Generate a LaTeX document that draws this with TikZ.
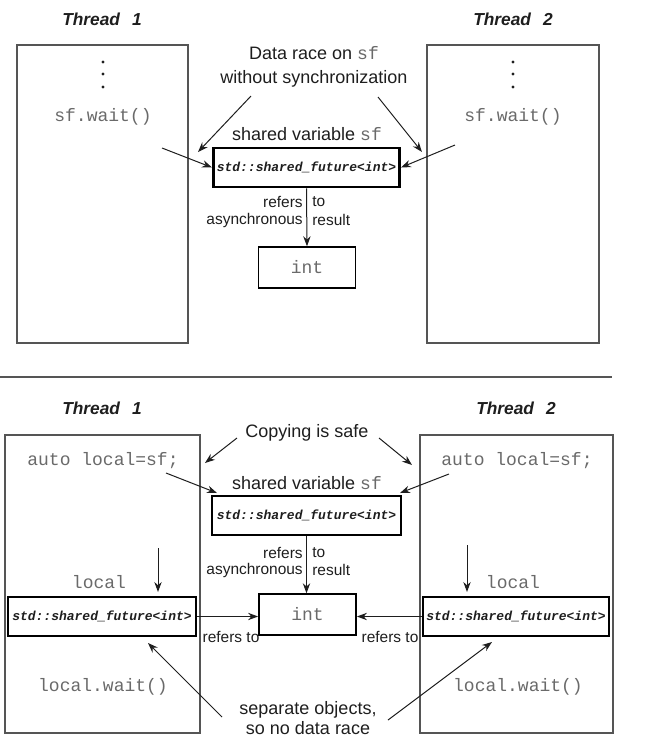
\documentclass[tikz,border=0pt]{standalone}
\usepackage{fontspec}
\setmainfont{Liberation Sans}
\setmonofont{Liberation Mono}
\usetikzlibrary{arrows.meta}
\definecolor{codegray}{HTML}{6A6A6A}
\definecolor{boxgray}{HTML}{555555}
\definecolor{txt}{HTML}{1E1E1E}
\tikzset{
  thread/.style={font=\fontsize{13}{15}\selectfont\bfseries\itshape, text=txt, inner sep=0pt},
  tbox/.style={draw=boxgray, line width=1.1pt, minimum height=223.5pt, inner sep=0pt},
  code/.style={font=\fontsize{13.5}{16}\selectfont\ttfamily, text=codegray, inner sep=0pt},
  lbl/.style={font=\fontsize{13.5}{18}\selectfont, text=txt, align=center, inner sep=0pt},
  lbltight/.style={font=\fontsize{13.5}{15.3}\selectfont, text=txt, align=center, inner sep=0pt},
  small/.style={font=\fontsize{11.6}{13}\selectfont, text=txt, inner sep=0pt},
  sfbox/.style={draw=black, line width=2.2pt, inner sep=0pt, minimum height=29.25pt,
    font=\fontsize{9.75}{11}\selectfont\ttfamily\bfseries\itshape, text=txt},
  intbox/.style={draw=black, line width=1.1pt, inner sep=0pt, minimum width=73pt, minimum height=30.75pt,
    font=\fontsize{13.5}{16}\selectfont\ttfamily, text=codegray},
  arr/.style={-{Stealth[length=7.5pt,width=5.5pt]}, line width=0.75pt, draw=txt},
  dotmark/.style={circle, fill=txt, inner sep=0pt, minimum size=2.4pt},
}
\newcommand{\myvarsf}{{\ttfamily\color{codegray}sf}}
\begin{document}
\begin{tikzpicture}[x=0.75pt, y=-0.75pt]
\useasboundingbox (0,0) rectangle (646,751);

% ---------------- top half ----------------
\node[thread] (t1a) at (102,19) {Thread\hspace{9pt}1};
\node[thread] (t2a) at (513,19) {Thread\hspace{9pt}2};
\node[tbox, minimum width=128.25pt] (b1a) at (102.5,194) {};
\node[tbox, minimum width=129pt] (b2a) at (513,194) {};
\node[dotmark] (d1a) at (103,62) {};
\node[dotmark] (d1b) at (103,74) {};
\node[dotmark] (d1c) at (103,87) {};
\node[dotmark] (d2a) at (513,62) {};
\node[dotmark] (d2b) at (513,74) {};
\node[dotmark] (d2c) at (513,87) {};
\node[code] (w1) at (103,117) {sf.wait()};
\node[code] (w2) at (513,117) {sf.wait()};
\node[lbl] (race) at (314,67) {Data race on \myvarsf\\without synchronization};
\node[lbl] (shA) at (307,134) {shared variable \myvarsf};
\node[sfbox, minimum width=139.5pt] (sfA) at (306.5,167.5) {std::shared\_future<int>};
\node[intbox] (intA) at (307,267.5) {int};
\node[small, anchor=east] (rA1) at (303,202) {refers};
\node[small, anchor=west] (rA2) at (312,202) {to};
\node[small, anchor=east] (rA3) at (303,220) {asynchronous};
\node[small, anchor=west] (rA4) at (312,220) {result};

\coordinate (ra1s) at (251,96);
\coordinate (ra1e) at (198,152);
\coordinate (ra2s) at (378,97);
\coordinate (ra2e) at (422,152);
\coordinate (wa1) at (162,148);
\coordinate (wa2) at (455,145);
\draw[arr] (ra1s) -- (ra1e);
\draw[arr] (ra2s) -- (ra2e);
\draw[arr] (wa1) -- (sfA.west);
\draw[arr] (wa2) -- (sfA.east);
\draw[arr] (sfA.south) -- (intA.north);

% separator
\coordinate (sepL) at (0,377);
\coordinate (sepR) at (612,377);
\draw[boxgray, line width=1.1pt] (sepL) -- (sepR);

% ---------------- bottom half ----------------
\node[thread] (t1b) at (102,408) {Thread\hspace{9pt}1};
\node[thread] (t2b) at (516,408) {Thread\hspace{9pt}2};
\node[tbox, minimum width=146.25pt] (b1b) at (102.5,584) {};
\node[tbox, minimum width=145pt] (b2b) at (516.5,584) {};
\node[code] (au1) at (103,461) {auto local=sf;};
\node[code] (au2) at (517,461) {auto local=sf;};
\node[lbl] (copy) at (307,433) {Copying is safe};
\node[lbl] (shB) at (307,483) {shared variable \myvarsf};
\node[sfbox, minimum width=141.75pt] (sfB) at (306.5,515.5) {std::shared\_future<int>};
\node[intbox] (intB) at (307.5,614.5) {int};
\node[small, anchor=east] (rB1) at (303,553) {refers};
\node[small, anchor=west] (rB2) at (312,553) {to};
\node[small, anchor=east] (rB3) at (303,570) {asynchronous};
\node[small, anchor=west] (rB4) at (312,570) {result};
\node[code] (loc1) at (99,582) {local};
\node[code] (loc2) at (513,582) {local};
\node[sfbox, minimum width=141pt] (lb1) at (102,616.5) {std::shared\_future<int>};
\node[sfbox, minimum width=139.5pt] (lb2) at (516,616.5) {std::shared\_future<int>};
\node[small] (rt1) at (231,637) {refers to};
\node[small] (rt2) at (390,637) {refers to};
\node[code] (lw1) at (103,687) {local.wait()};
\node[code] (lw2) at (518,687) {local.wait()};
\node[lbltight] (sep) at (308,718) {separate objects,\\so no data race};

\coordinate (ca1s) at (237,438);
\coordinate (ca1e) at (205,463);
\coordinate (ca2s) at (379,438);
\coordinate (ca2e) at (412,465);
\coordinate (aa1s) at (166,473);
\coordinate (aa1e) at (217,493);
\coordinate (aa2s) at (449,474);
\coordinate (aa2e) at (400,493);
\coordinate (da1s) at (158,548);
\coordinate (da1e) at (158,592);
\coordinate (da2s) at (467,545);
\coordinate (da2e) at (467,592);
\coordinate (sa1s) at (222,717);
\coordinate (sa1e) at (148,643);
\coordinate (sa2s) at (388,720);
\coordinate (sa2e) at (492,642);
\draw[arr] (ca1s) -- (ca1e);
\draw[arr] (ca2s) -- (ca2e);
\draw[arr] (aa1s) -- (aa1e);
\draw[arr] (aa2s) -- (aa2e);
\draw[arr] (sfB.south) -- (sfB.south |- intB.north);
\draw[arr] (da1s) -- (da1e);
\draw[arr] (da2s) -- (da2e);
\draw[arr] (lb1.east) -- (lb1.east -| intB.west);
\draw[arr] (lb2.west) -- (lb2.west -| intB.east);
\draw[arr] (sa1s) -- (sa1e);
\draw[arr] (sa2s) -- (sa2e);
\end{tikzpicture}
\end{document}
